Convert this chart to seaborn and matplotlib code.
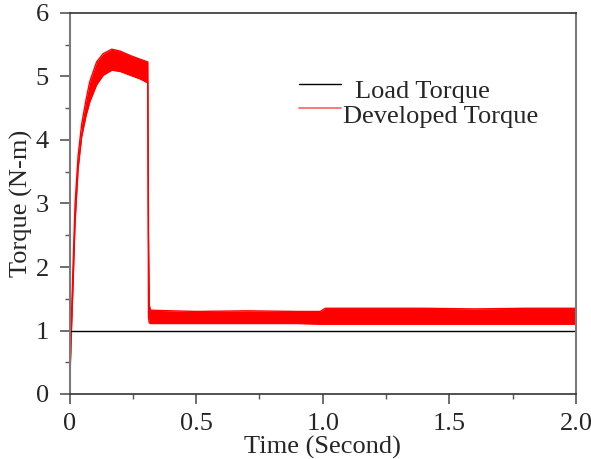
import numpy as np
import pandas as pd
import matplotlib
matplotlib.use("Agg")
import matplotlib.pyplot as plt
import seaborn as sns
from matplotlib.ticker import MultipleLocator, FixedLocator, FixedFormatter

# ---- data ----
load_t = [0.0, 2.0]
load_torque = [1.0, 1.0]

# envelope of the (noisy) developed-torque band
dev_t = [0.0, 0.006, 0.013, 0.022, 0.034, 0.048, 0.065, 0.080, 0.107, 0.133, 0.167,
         0.200, 0.240, 0.280, 0.309, 0.312, 0.315, 0.320, 0.40, 0.50, 0.70, 0.90,
         0.99, 1.01, 1.20, 1.40, 1.60, 1.80, 2.00]
dev_upper = [0.0, 1.0, 1.9, 3.0, 3.75, 4.25, 4.63, 4.92, 5.23, 5.36, 5.43,
             5.40, 5.33, 5.27, 5.23, 2.5, 1.40, 1.32, 1.31, 1.30, 1.31, 1.30,
             1.30, 1.35, 1.35, 1.35, 1.34, 1.35, 1.35]
dev_lower = [0.0, 0.8, 1.6, 2.7, 3.55, 4.05, 4.38, 4.60, 4.87, 5.02, 5.10,
             5.08, 5.02, 4.96, 4.90, 1.2, 1.12, 1.11, 1.11, 1.11, 1.11, 1.11,
             1.10, 1.10, 1.10, 1.10, 1.10, 1.10, 1.10]

x_ticks = [0.0, 0.5, 1.0, 1.5, 2.0]
x_tick_labels = ["0", "0.5", "1.0", "1.5", "2.0"]
y_ticks = [0, 1, 2, 3, 4, 5, 6]
y_tick_labels = ["0", "1", "2", "3", "4", "5", "6"]

sns.set_theme(style="ticks")
plt.rcParams['font.family'] = ['Liberation Serif', 'DejaVu Serif']
FS = 19

fig = plt.figure(figsize=(5.91, 4.59), dpi=100)
ax = fig.add_axes([69.5 / 591, 1 - 394 / 459, (576 - 69.5) / 591, (394 - 13) / 459])

dev = pd.DataFrame({"t": dev_t, "upper": dev_upper, "lower": dev_lower})
ax.fill_between(dev["t"], dev["lower"], dev["upper"], color="#ff0000", linewidth=0)
sns.lineplot(data=dev, x="t", y="upper", ax=ax, color="#ff0000", linewidth=1.0)
sns.lineplot(data=dev, x="t", y="lower", ax=ax, color="#ff0000", linewidth=1.0)

load = pd.DataFrame({"t": load_t, "torque": load_torque})
sns.lineplot(data=load, x="t", y="torque", ax=ax, color="black", linewidth=1.0)

ax.set_xlim(0, 2.0)
ax.set_ylim(0, 6)
ax.xaxis.set_major_locator(FixedLocator(x_ticks))
ax.xaxis.set_major_formatter(FixedFormatter(x_tick_labels))
ax.yaxis.set_major_locator(FixedLocator(y_ticks))
ax.yaxis.set_major_formatter(FixedFormatter(y_tick_labels))
ax.xaxis.set_minor_locator(MultipleLocator(0.25))
ax.yaxis.set_minor_locator(MultipleLocator(0.5))
ax.tick_params(axis="both", which="major", direction="out", length=7, width=1.2,
               color="#555555", labelsize=FS)
ax.tick_params(axis="x", which="major", pad=7)
ax.tick_params(axis="y", which="major", pad=8)
ax.tick_params(axis="both", which="minor", direction="out", length=3.5, width=1.0,
               color="#555555")

ax.set_xlabel("Time (Second)", fontsize=FS, labelpad=0)
ax.set_ylabel("Torque (N-m)", fontsize=FS, labelpad=2)

for s in ["left", "right"]:
    ax.spines[s].set_color("#7a7a7a")
    ax.spines[s].set_linewidth(1.5)
for s in ["top", "bottom"]:
    ax.spines[s].set_color("#333333")
    ax.spines[s].set_linewidth(1.2)
for s in ax.spines.values():
    s.set_visible(True)

# legend (drawn manually to mimic offset layout)
ax.plot([0.453, 0.536], [0.8136, 0.8136], transform=ax.transAxes, color="black", linewidth=1.0)
ax.plot([0.453, 0.536], [0.7507, 0.7507], transform=ax.transAxes, color="#ff6060", linewidth=1.2)
ax.text(0.564, 0.7927, "Load Torque", transform=ax.transAxes, fontsize=FS, va="center", ha="left")
ax.text(0.540, 0.727, "Developed Torque", transform=ax.transAxes, fontsize=FS, va="center", ha="left")

fig.savefig("out.png", dpi=100)
